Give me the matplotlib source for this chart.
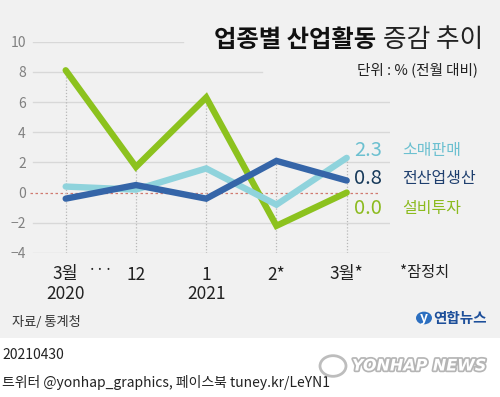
import matplotlib.pyplot as plt
import matplotlib.patheffects as pe
from matplotlib.patches import Rectangle, Circle

plt.rcParams["font.family"] = ["Noto Sans CJK KR", "DejaVu Sans"]

months = ["3월\n2020", "12", "1\n2021", "2*", "3월*"]
retail = [0.4, 0.2, 1.6, -0.8, 2.3]
production = [-0.4, 0.5, -0.4, 2.1, 0.8]
investment = [8.1, 1.7, 6.3, -2.2, 0.0]
y_ticks = [-4, -2, 0, 2, 4, 6, 8, 10]

C_RETAIL = "#8fd3dc"
C_PROD = "#3565a8"
C_INV = "#8cc21e"

W, H = 500, 397
fig = plt.figure(figsize=(W / 100, H / 100), dpi=100)
fig.patch.set_facecolor("white")
fig.patches.append(Rectangle((0, (H - 338) / H), 1, 338 / H, transform=fig.transFigure,
                             facecolor="#f1f1f1", edgecolor="none", zorder=-10))


def px(x, y):
    return x / W, 1 - y / H


ax = fig.add_axes([30 / W, (H - 253) / H, 360 / W, (253 - 41.6) / H])
ax.patch.set_visible(False)
xs = list(range(len(months)))
x0 = (30 - 65.7) / 70.25
x1 = (390 - 65.7) / 70.25
ax.set_xlim(x0, x1)
ax.set_ylim(-4, 10)
for s in ax.spines.values():
    s.set_visible(False)

# horizontal grid, the top two are shorter
for v in y_ticks:
    end = x1
    if v == 10:
        end = (183 - 65.7) / 70.25
    elif v == 8:
        end = (262 - 65.7) / 70.25
    if v != 0:
        ax.plot([x0 + 0.04, end], [v, v], color="#d8d8d8", lw=1, zorder=1)
ax.plot([x0, (380 - 65.7) / 70.25], [0, 0], color="#d07a70", lw=0.9,
        ls=(0, (2, 2)), zorder=1)

# vertical dotted guides up to the highest point
for i in xs:
    top = max(retail[i], production[i], investment[i])
    ax.plot([i, i], [-4, top], color="#b8b8b8", lw=0.9, ls=(0, (1, 1.5)), zorder=1)

for vals, c in [(investment, C_INV), (retail, C_RETAIL), (production, C_PROD)]:
    ax.plot(xs, vals, color=c, lw=4.6, solid_capstyle="round",
            solid_joinstyle="miter", zorder=3, clip_on=False)

ax.set_yticks(y_ticks)
ax.set_yticklabels([str(v).replace("-", "\u2212") for v in y_ticks])
ax.set_xticks(xs)
ax.set_xticklabels(months, linespacing=1.1)
ax.tick_params(axis="y", length=0, pad=3, labelsize=10, labelcolor="#808080")
ax.tick_params(axis="x", length=0, pad=9, labelsize=12.5, labelcolor="#222222")
for lab in ax.get_xticklabels():
    lab.set_verticalalignment("top")
ax.text(0.5, -4.6, "···", ha="center", va="top", fontsize=11, color="#222222")

# title and unit
fig.text(*px(383, 40), "증감 추이", ha="left", va="center", fontsize=18.5,
         color="#222222")
fig.text(*px(376, 40), "업종별 산업활동", ha="right", va="center", fontsize=17.5,
         fontweight="bold", color="#111111")
fig.text(*px(478, 70), "단위 : % (전월 대비)", ha="right", va="center", fontsize=10.5,
         color="#222222")

# end labels
labels = [("2.3", "소매판매", "#6cc0d0", "#6cc0d0", 150),
          ("0.8", "전산업생산", "#173a5a", "#1f3f6e", 179),
          ("0.0", "설비투자", "#8cbb1f", "#8cbb1f", 208)]
for num, name, cn, cl, ypix in labels:
    fig.text(*px(354, ypix), num, ha="left", va="center", fontsize=14.5, color=cn)
    fig.text(*px(402, ypix), name, ha="left", va="center", fontsize=11.5, color=cl)

fig.text(*px(400, 272), "*잠정치", ha="left", va="center", fontsize=11, color="#222222")
fig.text(*px(12, 322), "자료/ 통계청", ha="left", va="center", fontsize=9.5,
         color="#333333")

# logo
fig.patches.append(Circle(px(424, 318), 8 / W, transform=fig.transFigure,
                          facecolor="#2c6fc0", edgecolor="none"))
fig.text(*px(424, 318), "y", ha="center", va="center", fontsize=10, color="white",
         fontweight="bold", style="italic")
fig.text(*px(433, 318), "연합뉴스", ha="left", va="center", fontsize=10.5,
         fontweight="bold", color="#1d4f9a")

# footer
fig.text(*px(2, 355), "20210430", ha="left", va="center", fontsize=10, color="#222222")
fig.text(*px(2, 382), "트위터 @yonhap_graphics, 페이스북 tuney.kr/LeYN1", ha="left",
         va="center", fontsize=10, color="#222222")
fig.patches.append(Circle(px(333, 366), 13 / W, transform=fig.transFigure,
                          facecolor="white", edgecolor="#bdbdbd", lw=2, zorder=5))
wm = fig.text(*px(352, 366), "YONHAP NEWS", ha="left", va="center", fontsize=11.5,
              fontweight="bold", style="italic", color="white",
              family=["DejaVu Sans"])
wm.set_path_effects([pe.withStroke(linewidth=2.5, foreground="#b5b5b5")])

fig.savefig("out.png", dpi=100)
